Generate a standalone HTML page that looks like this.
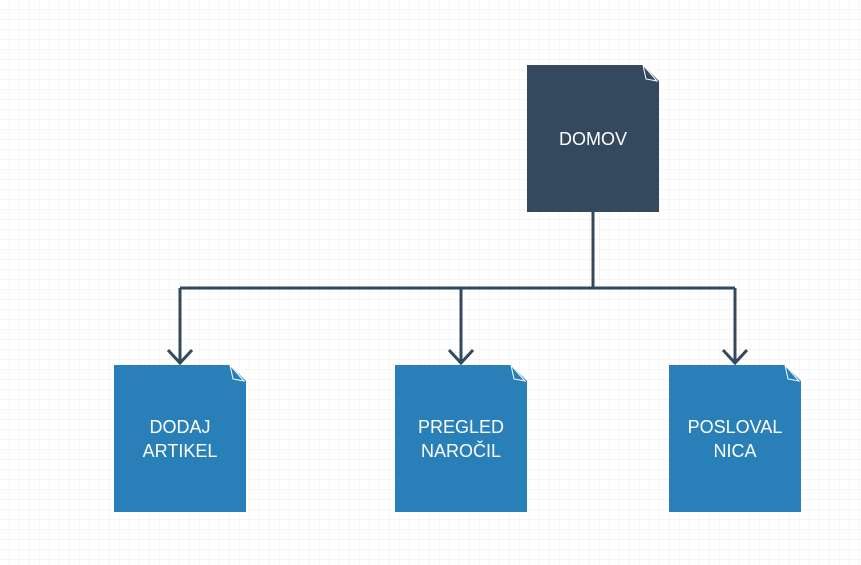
<!DOCTYPE html>
<html><head><meta charset="utf-8"><style>
html,body{margin:0;padding:0;background:#fff}
svg{display:block}
text{font-family:"Liberation Sans",Helvetica,sans-serif;font-size:18px;fill:#fff}
</style></head><body>
<svg width="861" height="565" viewBox="0 0 861 565" xmlns="http://www.w3.org/2000/svg">
<defs>
<pattern id="g" width="10" height="10" patternUnits="userSpaceOnUse">
<path d="M10 0V10M0 10H10" stroke="#ececec" stroke-width="1" fill="none"/>
</pattern>
</defs>
<rect width="861" height="565" fill="#fff"/>
<rect width="861" height="565" fill="url(#g)"/>
<g stroke="#334a5e" stroke-width="3" fill="none">
<path d="M593 212V288M180 288H735M180 288V363M461 288V363M735 288V363"/>
<path d="M168 350L180 363L192 350M449 350L461 363L473 350M723 350L735 363L747 350" stroke-linejoin="miter"/>
</g>
<g>
<path d="M527 65H643L659 81V212H527Z" fill="#34495e"/>
<path d="M643 65L646 79L657 81Z" fill="#34495e" stroke="#fff" stroke-width="1"/>
<text x="593" y="145" text-anchor="middle">DOMOV</text>
</g>
<g>
<path d="M114 365H230L246 381V512H114Z" fill="#2980b9"/>
<path d="M230 365L233 379L244 381Z" fill="#2980b9" stroke="#fff" stroke-width="1"/>
<text x="180" y="433" text-anchor="middle">DODAJ</text>
<text x="180" y="457" text-anchor="middle">ARTIKEL</text>
<path d="M395 365H511L527 381V512H395Z" fill="#2980b9"/>
<path d="M511 365L514 379L525 381Z" fill="#2980b9" stroke="#fff" stroke-width="1"/>
<text x="461" y="433" text-anchor="middle">PREGLED</text>
<text x="461" y="457" text-anchor="middle">NAROČIL</text>
<path d="M669 365H785L801 381V512H669Z" fill="#2980b9"/>
<path d="M785 365L788 379L799 381Z" fill="#2980b9" stroke="#fff" stroke-width="1"/>
<text x="735" y="433" text-anchor="middle">POSLOVAL</text>
<text x="735" y="457" text-anchor="middle">NICA</text>
</g>
</svg>
</body></html>
